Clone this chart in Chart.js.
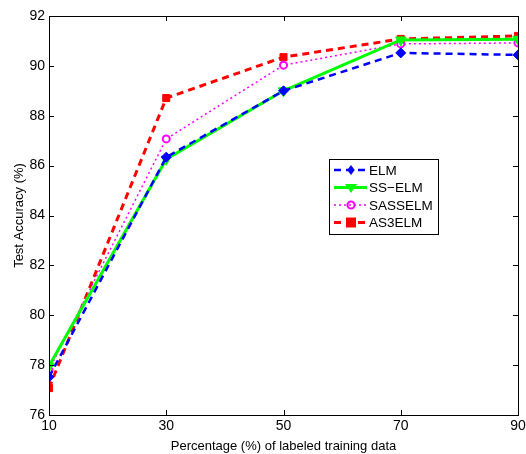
<!DOCTYPE html>
<html>
<head>
<meta charset="utf-8">
<script src="https://cdn.jsdelivr.net/npm/chart.js@4/dist/chart.umd.min.js"></script>
<style>
  html, body { margin: 0; padding: 0; background: #fff; }
  #wrap { width: 526px; height: 454px; position: relative; }
</style>
</head>
<body>
<div id="wrap"><canvas id="myChart" width="526" height="454"></canvas></div>
<script>
// labeled training data percentages
var xValues = [10, 30, 50, 70, 90];
var yTicks = [76, 78, 80, 82, 84, 86, 88, 90, 92];

var elm      = [77.52, 86.34, 89.00, 90.52, 90.44];
var ssElm    = [77.96, 86.26, 89.00, 91.04, 91.07];
var sasselm  = [77.80, 87.07, 90.03, 90.88, 90.92];
var as3elm   = [77.08, 88.71, 90.35, 91.08, 91.20];

var FONT = "Liberation Sans, Arial, sans-serif";

function pts(arr) {
    var out = [];
    for (var i = 0; i < xValues.length; i++) out.push({x: xValues[i], y: arr[i]});
    return out;
}

// MATLAB-like box, inward ticks and legend
var boxPlugin = {
    id: 'boxPlugin',
    afterDatasetsDraw: function(chart) {
        var ctx = chart.ctx, a = chart.chartArea;
        var xs = chart.scales.x, ys = chart.scales.y;
        ctx.save();
        ctx.strokeStyle = '#000';
        ctx.lineWidth = 1;
        ctx.strokeRect(a.left + 0.5, a.top + 0.5, a.right - a.left, a.bottom - a.top);
        ctx.beginPath();
        xValues.forEach(function(v) {
            var px = Math.round(xs.getPixelForValue(v)) + 0.5;
            ctx.moveTo(px, a.bottom); ctx.lineTo(px, a.bottom - 5);
            ctx.moveTo(px, a.top); ctx.lineTo(px, a.top + 5);
        });
        yTicks.forEach(function(v) {
            var py = Math.round(ys.getPixelForValue(v)) + 0.5;
            ctx.moveTo(a.left, py); ctx.lineTo(a.left + 5, py);
            ctx.moveTo(a.right, py); ctx.lineTo(a.right - 5, py);
        });
        ctx.stroke();

        // legend box
        var lx = 329, ly = 159, lw = 109, lh = 75;
        ctx.fillStyle = '#fff';
        ctx.fillRect(lx, ly, lw, lh);
        ctx.strokeRect(lx + 0.5, ly + 0.5, lw, lh);
        ctx.font = '13.5px ' + FONT;
        ctx.textBaseline = 'middle';
        chart.data.datasets.forEach(function(ds, i) {
            var cy = ly + 11 + i * 17.5;
            ctx.save();
            ctx.strokeStyle = ds.borderColor;
            ctx.lineWidth = ds.borderWidth;
            ctx.setLineDash(ds.borderDash || []);
            ctx.beginPath();
            ctx.moveTo(lx + 5, cy); ctx.lineTo(lx + 38, cy);
            ctx.stroke();
            ctx.setLineDash([]);
            var mx = lx + 22, r = ds.pointRadius;
            ctx.fillStyle = ds.pointBackgroundColor;
            ctx.strokeStyle = ds.pointBorderColor;
            ctx.lineWidth = ds.pointBorderWidth;
            ctx.beginPath();
            if (ds.pointStyle === 'rectRot') {
                ctx.moveTo(mx, cy - r); ctx.lineTo(mx + r * 0.75, cy); ctx.lineTo(mx, cy + r); ctx.lineTo(mx - r * 0.75, cy); ctx.closePath();
                ctx.fill();
            } else if (ds.pointStyle === 'triangle') {
                ctx.moveTo(mx - r, cy - r * 0.6); ctx.lineTo(mx + r, cy - r * 0.6); ctx.lineTo(mx, cy + r * 0.9); ctx.closePath();
                ctx.fill();
            } else if (ds.pointStyle === 'circle') {
                ctx.arc(mx, cy, r, 0, Math.PI * 2);
                ctx.stroke();
            } else {
                ctx.rect(mx - r, cy - r, 2 * r, 2 * r);
                ctx.fill();
            }
            ctx.restore();
            ctx.fillStyle = '#000';
            ctx.fillText(ds.label, lx + 40, cy + 1);
        });
        ctx.restore();
    }
};

var ctx = document.getElementById('myChart').getContext('2d');
var chart = new Chart(ctx, {
    type: 'line',
    data: {
        datasets: [
            {
                label: 'ELM',
                data: pts(elm),
                borderColor: '#0000ff',
                borderWidth: 2.5,
                borderDash: [7, 5],
                pointStyle: 'rectRot',
                pointRadius: 5,
                pointBackgroundColor: '#0000ff',
                pointBorderColor: '#0000ff',
                pointBorderWidth: 1
            },
            {
                label: 'SS\u2212ELM',
                data: pts(ssElm),
                borderColor: '#00ff00',
                borderWidth: 3,
                pointStyle: 'triangle',
                pointRotation: 180,
                pointRadius: 6,
                pointBackgroundColor: '#00ff00',
                pointBorderColor: '#00ff00',
                pointBorderWidth: 1
            },
            {
                label: 'SASSELM',
                data: pts(sasselm),
                borderColor: '#ff00ff',
                borderWidth: 1.5,
                borderDash: [2, 3],
                pointStyle: 'circle',
                pointRadius: 3.5,
                pointBackgroundColor: '#ffffff',
                pointBorderColor: '#ff00ff',
                pointBorderWidth: 2
            },
            {
                label: 'AS3ELM',
                data: pts(as3elm),
                borderColor: '#ff0000',
                borderWidth: 3,
                borderDash: [7, 5],
                pointStyle: 'rect',
                pointRadius: 5,
                pointBackgroundColor: '#ff0000',
                pointBorderColor: '#ff0000',
                pointBorderWidth: 1
            }
        ]
    },
    options: {
        responsive: false,
        animation: false,
        layout: { padding: { top: 16, right: 0, left: 0, bottom: 0 } },
        plugins: { legend: { display: false }, tooltip: { enabled: false } },
        scales: {
            x: {
                type: 'linear',
                min: 10, max: 90,
                afterBuildTicks: function(s) { s.ticks = xValues.map(function(v) { return {value: v}; }); },
                afterFit: function(s) { s.height = 39; s.paddingRight = 8; s.paddingLeft = 0; },
                grid: { display: false, drawTicks: false },
                border: { display: false },
                ticks: { color: '#000', font: { family: FONT, size: 14 }, padding: 3, maxRotation: 0 },
                title: { display: true, text: 'Percentage (%) of labeled training data', color: '#000',
                         font: { family: FONT, size: 13 }, padding: { top: 0, bottom: 0 } }
            },
            y: {
                min: 76, max: 92,
                afterBuildTicks: function(s) { s.ticks = yTicks.map(function(v) { return {value: v}; }); },
                afterFit: function(s) { s.width = 49; },
                grid: { display: false, drawTicks: false },
                border: { display: false },
                ticks: { color: '#000', font: { family: FONT, size: 14 }, padding: 4 },
                title: { display: true, text: 'Test Accuracy (%)', color: '#000',
                         font: { family: FONT, size: 13 }, padding: { top: 12, bottom: 0 } }
            }
        }
    },
    plugins: [boxPlugin]
});
</script>
</body>
</html>
